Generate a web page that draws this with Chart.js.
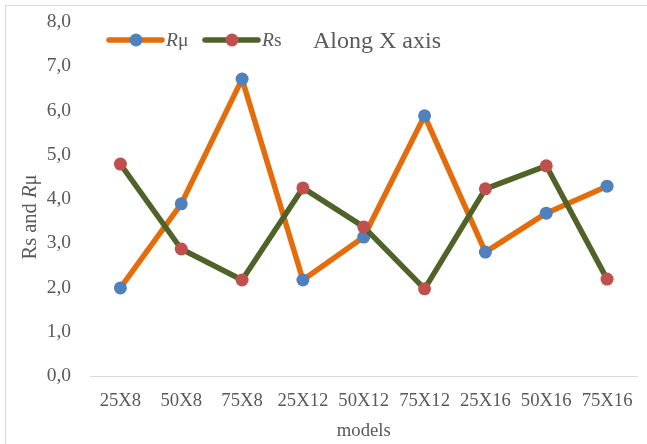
<!DOCTYPE html>
<html>
<head>
<meta charset="utf-8">
<script src="https://cdn.jsdelivr.net/npm/chart.js@4/dist/chart.umd.min.js"></script>
<style>
  html, body { margin: 0; padding: 0; background: #ffffff; }
  #wrap { width: 647px; height: 444px; }
</style>
</head>
<body>
<div id="wrap"><canvas id="c" width="647" height="444"></canvas></div>
<script>
const categories = ['25X8', '50X8', '75X8', '25X12', '50X12', '75X12', '25X16', '50X16', '75X16'];
const rMu = [1.99, 3.89, 6.71, 2.17, 3.14, 5.88, 2.80, 3.68, 4.29];
const rS  = [4.79, 2.87, 2.17, 4.25, 3.37, 1.97, 4.23, 4.75, 2.19];
const yTicks = [0, 1, 2, 3, 4, 5, 6, 7, 8];

const ORANGE = '#E46C0A', GREEN = '#4F6228', BLUE = '#4F81BD', RED = '#C0504D';
const TXT = '#595959';
const SERIF = '"Liberation Serif", "Times New Roman", serif';

function drawMixed(ctx, parts, x, y, size) {
  let cx = x;
  for (const [t, it] of parts) {
    ctx.font = (it ? 'italic ' : '') + size + 'px ' + SERIF;
    ctx.fillText(t, cx, y);
    cx += ctx.measureText(t).width;
  }
  return cx;
}
function mixedWidth(ctx, parts, size) {
  let w = 0;
  for (const [t, it] of parts) {
    ctx.font = (it ? 'italic ' : '') + size + 'px ' + SERIF;
    w += ctx.measureText(t).width;
  }
  return w;
}

const decor = {
  id: 'decor',
  beforeDraw(chart) {
    const ctx = chart.ctx;
    ctx.save();
    ctx.fillStyle = '#ffffff';
    ctx.fillRect(0, 0, chart.width, chart.height);
    ctx.strokeStyle = '#D9D9D9';
    ctx.lineWidth = 1;
    ctx.strokeRect(5.5, 5.5, 800, 800);
    ctx.restore();
  },
  afterDraw(chart) {
    const ctx = chart.ctx;
    const ca = chart.chartArea;
    ctx.save();
    ctx.fillStyle = TXT;
    ctx.textBaseline = 'middle';
    const ly = 40;
    const items = [
      { x0: 108, line: ORANGE, dot: BLUE, parts: [['R', true], ['\u03bc', false]] },
      { x0: 204, line: GREEN, dot: RED, parts: [['R', true], ['s', false]] }
    ];
    for (const it of items) {
      ctx.strokeStyle = it.line;
      ctx.lineWidth = 5.5;
      ctx.lineCap = 'round';
      ctx.beginPath();
      ctx.moveTo(it.x0 + 1, ly);
      ctx.lineTo(it.x0 + 54, ly);
      ctx.stroke();
      ctx.fillStyle = it.dot;
      ctx.beginPath();
      ctx.arc(it.x0 + 28, ly, 6.5, 0, Math.PI * 2);
      ctx.fill();
      ctx.fillStyle = TXT;
      ctx.textAlign = 'left';
      drawMixed(ctx, it.parts, it.x0 + 58, ly + 1, 19.5);
    }
    ctx.font = '24px ' + SERIF;
    ctx.textAlign = 'left';
    ctx.fillText('Along X axis', 313, ly + 2);

    ctx.font = '18.7px ' + SERIF;
    ctx.textAlign = 'center';
    ctx.fillText('models', (ca.left + ca.right) / 2, 431);

    const parts = [['Rs and ', false], ['R', true], ['\u03bc', false]];
    ctx.translate(31, 217);
    ctx.rotate(-Math.PI / 2);
    ctx.textAlign = 'left';
    const w = mixedWidth(ctx, parts, 20.5);
    drawMixed(ctx, parts, -w / 2, 0, 20.5);
    ctx.restore();
  }
};

new Chart(document.getElementById('c'), {
  type: 'line',
  data: {
    labels: categories,
    datasets: [
      {
        label: 'R\u03bc', data: rMu, order: 1,
        borderColor: ORANGE, borderWidth: 5.5,
        pointBackgroundColor: BLUE, pointBorderColor: BLUE, pointBorderWidth: 0,
        pointRadius: 6.5, pointHoverRadius: 6.5, tension: 0, borderCapStyle: 'round', borderJoinStyle: 'round'
      },
      {
        label: 'Rs', data: rS, order: 0,
        borderColor: GREEN, borderWidth: 5.5,
        pointBackgroundColor: RED, pointBorderColor: RED, pointBorderWidth: 0,
        pointRadius: 6.5, pointHoverRadius: 6.5, tension: 0, borderCapStyle: 'round', borderJoinStyle: 'round'
      }
    ]
  },
  options: {
    responsive: false,
    animation: false,
    events: [],
    layout: { padding: { left: 0, top: 22, right: 9, bottom: 0 } },
    plugins: { legend: { display: false }, tooltip: { enabled: false }, title: { display: false } },
    scales: {
      x: {
        offset: true,
        grid: { display: false, drawTicks: false },
        border: { display: true, color: '#D9D9D9', width: 1 },
        ticks: { color: TXT, font: { family: SERIF, size: 18.7 }, padding: 14, maxRotation: 0, autoSkip: false },
        afterFit(s) { s.height = 68; }
      },
      y: {
        min: 0, max: 8,
        afterBuildTicks(s) { s.ticks = yTicks.map(v => ({ value: v })); },
        grid: { display: true, drawOnChartArea: false, drawTicks: true, tickLength: 19, color: 'rgba(0,0,0,0)', tickColor: 'rgba(0,0,0,0)' },
        border: { display: false },
        ticks: {
          color: TXT, font: { family: SERIF, size: 19.5 }, padding: 0,
          callback: v => Number(v).toFixed(1).replace('.', ',')
        },
        afterFit(s) { s.width = 90; }
      }
    }
  },
  plugins: [decor]
});
</script>
</body>
</html>
